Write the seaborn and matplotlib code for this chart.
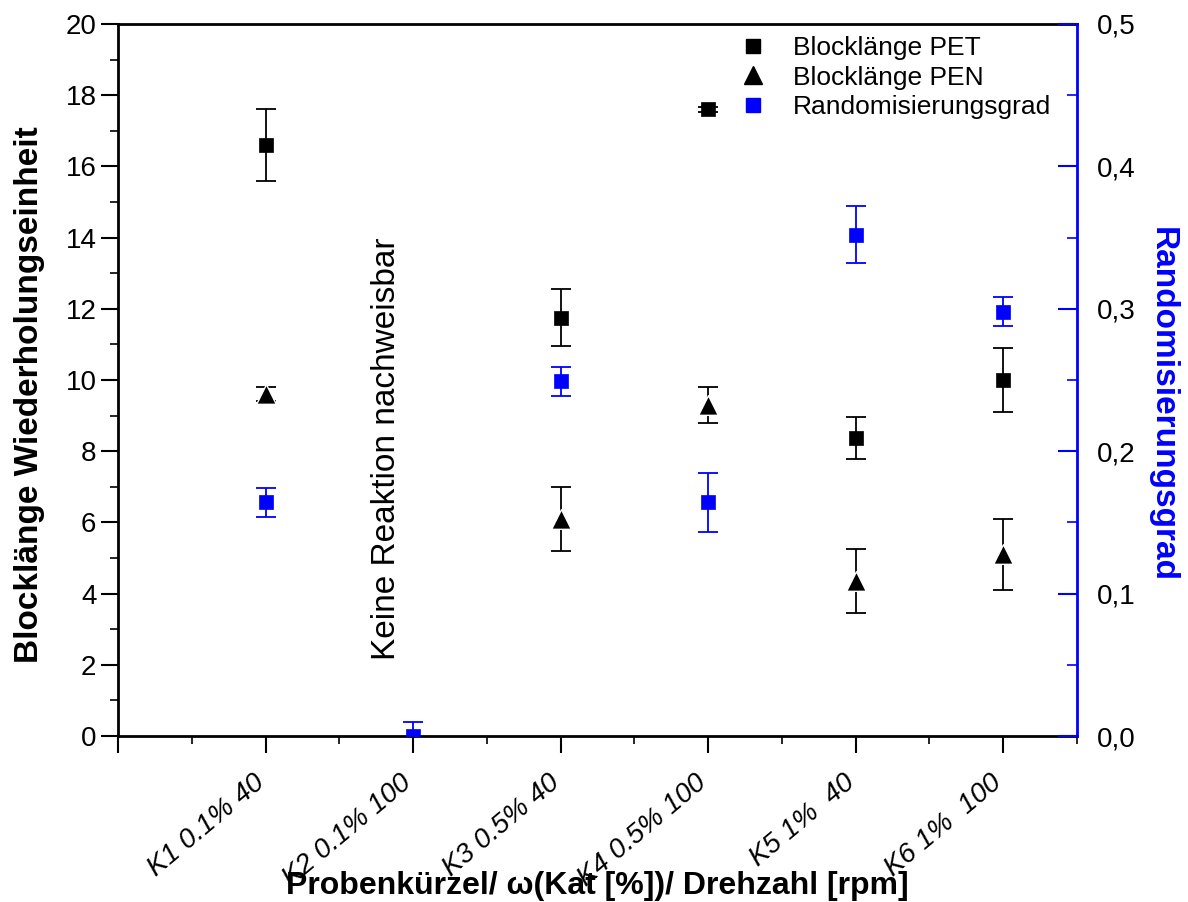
import numpy as np
import pandas as pd
import matplotlib
matplotlib.use("Agg")
import matplotlib.pyplot as plt
import matplotlib.transforms as mtransforms
import seaborn as sns
from matplotlib.ticker import MultipleLocator, FixedLocator, FuncFormatter
from matplotlib.lines import Line2D

# ---------------- data ----------------
samples = ["K1 0.1% 40", "K2 0.1% 100", "K3 0.5% 40", "K4 0.5% 100", "K5 1%  40", "K6 1%  100"]
positions = [1, 2, 3, 4, 5, 6]
pet_values = [16.6, np.nan, 11.75, 17.6, 8.37, 10.0]
pet_errors = [1.0, np.nan, 0.8, 0.08, 0.6, 0.9]
pen_values = [9.6, np.nan, 6.1, 9.3, 4.35, 5.1]
pen_errors = [0.2, np.nan, 0.9, 0.5, 0.9, 1.0]
rand_values = [0.164, 0.0, 0.249, 0.164, 0.352, 0.298]
rand_errors = [0.01, 0.01, 0.01, 0.021, 0.02, 0.01]

# ---------------- style ----------------
sns.set_theme(style="ticks")
plt.rcParams['font.family'] = ['Liberation Sans', 'DejaVu Sans']
for k in ["text.color", "axes.labelcolor", "xtick.color", "ytick.color", "axes.edgecolor"]:
    plt.rcParams[k] = "black"

df = pd.DataFrame({"pos": positions, "sample": samples,
                   "PET": pet_values, "PET_err": pet_errors,
                   "PEN": pen_values, "PEN_err": pen_errors,
                   "Rand": rand_values, "Rand_err": rand_errors})

fig = plt.figure(figsize=(11.88, 9.02), dpi=100)
ax = fig.add_axes([118/1188, 1 - 736/902, (1077-118)/1188, (736-24)/902])
ax2 = ax.twinx()

blue = "#0000FF"

# error bars
ax.errorbar(df["pos"], df["PET"], yerr=df["PET_err"], fmt="none", ecolor="black",
            elinewidth=1.3, capsize=7, capthick=1.3, zorder=2)
ax.errorbar(df["pos"], df["PEN"], yerr=df["PEN_err"], fmt="none", ecolor="black",
            elinewidth=1.3, capsize=7, capthick=1.3, zorder=2)
ax2.errorbar(df["pos"], df["Rand"], yerr=df["Rand_err"], fmt="none", ecolor=blue,
             elinewidth=1.3, capsize=7, capthick=1.3, zorder=2)

# markers via seaborn
sns.scatterplot(data=df, x="pos", y="PET", marker="s", s=90, color="black",
                edgecolor="black", linewidth=0.5, ax=ax, zorder=3, legend=False)
sns.scatterplot(data=df, x="pos", y="PEN", marker="^", s=200, color="black",
                edgecolor="white", linewidth=1.0, ax=ax, zorder=3, legend=False)
sns.scatterplot(data=df, x="pos", y="Rand", marker="s", s=90, color=blue,
                edgecolor=blue, linewidth=0.5, ax=ax2, zorder=3, legend=False)

# axes limits and ticks
ax.set_xlim(0, 6.5)
ax.set_ylim(0, 20)
ax2.set_ylim(0, 0.5)

ax.xaxis.set_major_locator(FixedLocator([0] + positions))
ax.set_xticklabels([""] + samples, rotation=40, ha="right", va="top",
                   rotation_mode="anchor", fontsize=20, style="italic")
ax.xaxis.set_minor_locator(MultipleLocator(0.5))
ax.yaxis.set_major_locator(MultipleLocator(2))
ax.yaxis.set_minor_locator(MultipleLocator(1))
ax2.yaxis.set_major_locator(MultipleLocator(0.1))
ax2.yaxis.set_minor_locator(MultipleLocator(0.05))
ax2.yaxis.set_major_formatter(FuncFormatter(lambda v, p: f"{v:.1f}".replace(".", ",")))

ax.tick_params(axis="x", which="major", direction="out", length=12, width=1.5,
               pad=12, top=False)
ax.tick_params(axis="x", which="minor", direction="out", length=6, width=1.2, top=False)
ax.tick_params(axis="y", which="major", direction="out", length=12, width=1.5,
               labelsize=20, right=False)
ax.tick_params(axis="y", which="minor", direction="out", length=6, width=1.2, right=False)
ax2.tick_params(axis="y", which="major", direction="in", length=14, width=1.5,
                labelsize=20, color=blue, labelcolor="black", pad=14)
ax2.tick_params(axis="y", which="minor", direction="in", length=7, width=1.2, color=blue)

shift = mtransforms.ScaledTranslation(-13/100, 0, fig.dpi_scale_trans)
for lab in ax.get_xticklabels():
    lab.set_fontstyle("italic")
    lab.set_transform(lab.get_transform() + shift)

for s in ["left", "bottom", "top"]:
    ax.spines[s].set_linewidth(2)
    ax.spines[s].set_color("black")
ax.spines["right"].set_visible(False)
for s in ["left", "bottom", "top"]:
    ax2.spines[s].set_visible(False)
ax2.spines["right"].set_color(blue)
ax2.spines["right"].set_linewidth(2)
ax.grid(False)
ax2.grid(False)

# labels
ax.set_ylabel("Blocklänge Wiederholungseinheit", fontsize=24, fontweight="bold",
              va="center", ha="center")
ax.yaxis.set_label_coords(-0.092, 0.479)
ax.set_xlabel("Probenkürzel/ ω(Kat [%])/ Drehzahl [rpm]", fontsize=23, fontweight="bold",
              va="center", ha="center")
ax.xaxis.set_label_coords(0.5, -0.21)
ax2.set_ylabel("Randomisierungsgrad", fontsize=24, fontweight="bold", color=blue,
               rotation=-90, va="center", ha="center")
ax2.yaxis.set_label_coords(1.0886, 0.465)

ax.text(1.82, 8.06, "Keine Reaktion nachweisbar", rotation=90, ha="center", va="center",
        fontsize=24, color="black")

# legend
handles = [
    Line2D([], [], marker="s", linestyle="none", color="black", markersize=10),
    Line2D([], [], marker="^", linestyle="none", color="black", markersize=13),
    Line2D([], [], marker="s", linestyle="none", color=blue, markersize=10),
]
labels = ["Blocklänge PET", "Blocklänge PEN", "Randomisierungsgrad"]
ax2.legend(handles, labels, loc="upper right", bbox_to_anchor=(0.988, 1.003),
           frameon=False, fontsize=19, handletextpad=0.5, labelspacing=0.2,
           borderaxespad=0.15)

fig.savefig("out.png", dpi=100)
